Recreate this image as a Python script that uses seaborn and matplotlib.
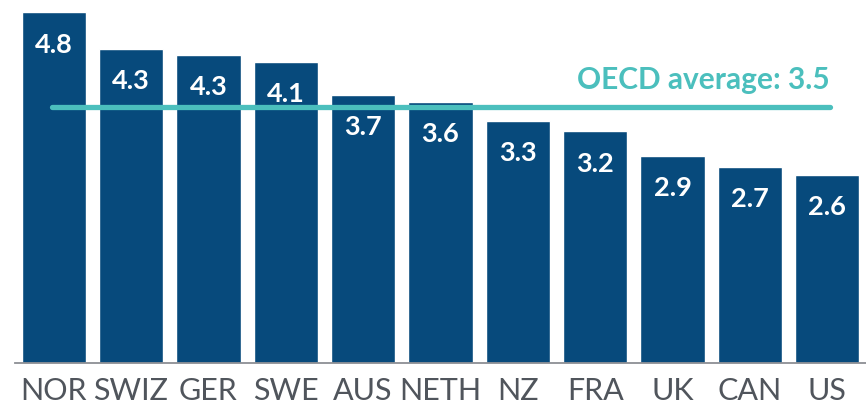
import numpy as np
import pandas as pd
import matplotlib
matplotlib.use("Agg")
import matplotlib.pyplot as plt
import seaborn as sns

# data
countries = ["NOR", "SWIZ", "GER", "SWE", "AUS", "NETH", "NZ", "FRA", "UK", "CAN", "US"]
# bar heights as drawn (unrounded), and the printed labels
heights = [4.80, 4.30, 4.22, 4.12, 3.67, 3.57, 3.31, 3.17, 2.84, 2.68, 2.57]
labels = ["4.8", "4.3", "4.3", "4.1", "3.7", "3.6", "3.3", "3.2", "2.9", "2.7", "2.6"]
oecd_avg = 3.5

df = pd.DataFrame({"country": countries, "value": heights})

sns.set_style("white")
plt.rcParams["font.family"] = ["Lato", "DejaVu Sans"]

bar_color = "#074a7c"
teal = "#4bbfbd"
grey = "#8c8f94"

fig = plt.figure(figsize=(8.66, 4.05), dpi=100)
ax = fig.add_axes([15 / 866, 1 - 363 / 405, 1 - 15 / 866, 363 / 405])

sns.barplot(data=df, x="country", y="value", color=bar_color, width=0.83,
            saturation=1, ax=ax)

ax.set_xlim(-0.5, len(countries) - 0.5)
ax.set_ylim(0, 4.97)

# value labels inside the bars
for i, (h, lab) in enumerate(zip(heights, labels)):
    ax.text(i, h - 0.44, lab, ha="center", va="center", color="white",
            fontsize=19.5, fontweight="bold")

# OECD average line + label
ax.plot([-0.02, 10.03], [oecd_avg, oecd_avg], color=teal, lw=3.8,
        solid_capstyle="round", zorder=5)
ax.text(10.03, oecd_avg + 0.245, f"OECD average: {oecd_avg}", ha="right",
        va="baseline", color=teal, fontsize=21.5, fontweight="bold")

# axes styling
for s in ["top", "right", "left"]:
    ax.spines[s].set_visible(False)
ax.spines["bottom"].set_color(grey)
ax.spines["bottom"].set_linewidth(1.3)
ax.set_yticks([])
ax.set_xlabel("")
ax.set_ylabel("")
ax.set_xticks(range(len(countries)))
ax.set_xticklabels(countries, fontsize=22, color="#50555c")
ax.tick_params(axis="x", which="major", length=0, pad=10)
ax.set_xticks(np.arange(-0.5, len(countries), 1), minor=True)
ax.tick_params(axis="x", which="minor", length=6, width=1.2, color=grey,
               direction="out")

fig.savefig("out.png", dpi=100)
